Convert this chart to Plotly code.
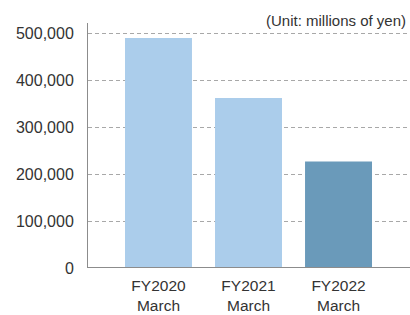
import plotly.graph_objects as go

categories = ["FY2020<br>March", "FY2021<br>March", "FY2022<br>March"]
values = [490000, 362000, 227000]
bar_colors = ["#abcdeb", "#abcdeb", "#6a9aba"]
y_ticks = [0, 100000, 200000, 300000, 400000, 500000]
y_tick_labels = ["0", "100,000", "200,000", "300,000", "400,000", "500,000"]
unit_label = "(Unit: millions of yen)"

fig = go.Figure(go.Bar(x=categories, y=values, marker=dict(color=bar_colors, line=dict(width=0)),
                       hoverinfo="skip"))

font = dict(family="Liberation Sans, Arial, sans-serif", size=16, color="#333333")

fig.update_layout(
    width=410, height=315,
    margin=dict(l=88, r=0, t=23, b=47, autoexpand=False),
    paper_bgcolor="white", plot_bgcolor="white",
    bargap=0.256,
    showlegend=False,
    font=font,
    xaxis=dict(
        type="category",
        range=[-0.783, 2.794],
        showline=False, showgrid=False, zeroline=False,
        ticks="", ticklabelstandoff=6,
        tickfont=dict(size=15.5, color="#333333"),
    ),
    yaxis=dict(
        range=[0, 522000],
        tickvals=y_ticks, ticktext=y_tick_labels,
        showgrid=True, gridcolor="#a8a8a8", gridwidth=1, griddash="4px,3px",
        zeroline=False,
        showline=True, linecolor="#8c8c8c", linewidth=1,
        ticks="", ticklabelstandoff=10,
        tickfont=dict(size=16, color="#333333"),
    ),
    shapes=[dict(type="line", xref="paper", yref="y", x0=0, x1=1, y0=0, y1=0,
                 line=dict(color="#8c8c8c", width=2))],
    annotations=[dict(text=unit_label, xref="paper", yref="paper", x=1, y=1,
                      xanchor="right", yanchor="middle", yshift=3, xshift=-2, showarrow=False,
                      font=dict(size=15, color="#333333"))],
)

fig.write_html("out.html", config={"displayModeBar": False},
               post_script="document.body.style.margin='0';")
